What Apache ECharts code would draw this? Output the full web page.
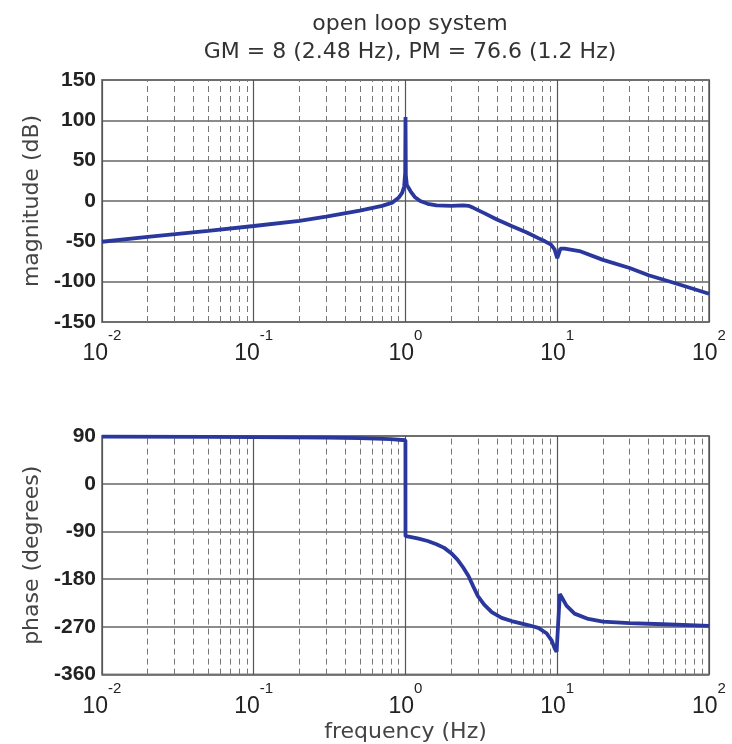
<!DOCTYPE html>
<html>
<head>
<meta charset="utf-8">
<script src="https://cdn.jsdelivr.net/npm/echarts@6/dist/echarts.min.js"></script>
<style>html,body{margin:0;padding:0;background:#fff}#c{width:732px;height:744px}</style>
</head>
<body>
<div id="c"></div>
<script>
// ---- data ----
var titleLines = ['open loop system', 'GM = 8 (2.48 Hz), PM = 76.6 (1.2 Hz)'];
var magTicks = [-150, -100, -50, 0, 50, 100, 150];
var phaseTicks = [-360, -270, -180, -90, 0, 90];
var decades = [0.01, 0.1, 1, 10];
var minorMultipliers = [2, 3, 4, 5, 6, 7, 8, 9];

var freqMag = [0.01, 0.02, 0.05, 0.1, 0.2, 0.3, 0.5, 0.7, 0.82, 0.9, 0.95, 0.98, 0.995, 1.0, 1.005, 1.02, 1.08, 1.15, 1.25, 1.4, 1.6, 2.0, 2.4, 2.6, 2.8, 3.3, 4.0, 5.0, 6.3, 7.5, 8.3, 9.1, 9.6, 10.0, 10.5, 11.2, 14, 20, 30, 40, 60, 100];
var magDb   = [-50.5, -44.5, -37, -31, -24.5, -19.5, -12, -6, -2, 4, 10, 18, 35, 104, 32, 20, 12, 5, 0, -3.5, -5.5, -6, -5.5, -6, -8.5, -15, -23, -31, -39, -46, -50, -54, -60, -71, -59, -59, -62, -73, -83, -92, -102, -115];

var freqPh = [0.01, 0.05, 0.1, 0.3, 0.5, 0.8, 0.999, 1.0, 1.05, 1.2, 1.4, 1.6, 1.8, 2.0, 2.2, 2.4, 2.6, 2.8, 3.0, 3.3, 3.7, 4.3, 5.0, 5.5, 6.5, 7.5, 8.5, 9.2, 9.6, 9.9, 10.4, 10.8, 11.5, 13, 16, 20, 30, 50, 100];
var phaseDeg = [89, 88.5, 88, 87, 86, 84, 82, -99, -100, -103, -108, -114, -121, -131, -143, -158, -174, -194, -212, -228, -242, -253, -259, -262, -267, -272, -282, -296, -310, -317, -208, -216, -230, -245, -255, -260, -263, -265, -268];

// ---- build ----
var FONT = 'Liberation Sans, Arial, sans-serif';
var WIDE = 'DejaVu Sans, sans-serif';
function pairs(xs, ys) { return xs.map(function (x, i) { return [x, ys[i]]; }); }
var minorLines = [];
decades.forEach(function (d) { minorMultipliers.forEach(function (m) { minorLines.push({ xAxis: m * d }); }); });

function xAxisFor(idx, withName) {
  return {
    type: 'log', logBase: 10, gridIndex: idx, min: 0.01, max: 100,
    axisLine: { show: false }, axisTick: { show: false },
    splitLine: { show: true, lineStyle: { color: '#555', width: 1.2 } },
    axisLabel: {
      margin: 10,
      formatter: function (v) { return '{b|10}{s|' + Math.round(Math.log10(v)) + '}'; },
      rich: {
        b: { fontSize: 23, color: '#222', fontFamily: FONT, lineHeight: 32, padding: [12, 0, 0, 0] },
        s: { fontSize: 15, color: '#222', fontFamily: FONT, lineHeight: 16, padding: [0, 0, 24, 0] }
      }
    },
    name: withName ? 'frequency (Hz)' : '',
    nameLocation: 'middle', nameGap: 44,
    nameTextStyle: { fontSize: 22, color: '#444', fontFamily: WIDE }
  };
}
function yAxisFor(idx, ticks, name) {
  return {
    type: 'value', gridIndex: idx, min: ticks[0], max: ticks[ticks.length - 1],
    interval: ticks[1] - ticks[0],
    axisLine: { show: false }, axisTick: { show: false },
    splitLine: { show: true, lineStyle: { color: '#666', width: 1.5 } },
    axisLabel: { fontSize: 21, fontWeight: 'bold', color: '#222', fontFamily: FONT, margin: 6 },
    name: name, nameLocation: 'middle', nameGap: 59,
    nameTextStyle: { fontSize: 22, color: '#444', fontFamily: WIDE }
  };
}
var lineColor = '#2a389e';
function seriesFor(idx, data) {
  return {
    type: 'line', xAxisIndex: idx, yAxisIndex: idx, data: data,
    showSymbol: false, symbol: 'none', animation: false,
    lineStyle: { color: lineColor, width: 3.8 },
    markLine: {
      silent: true, symbol: 'none', animation: false,
      label: { show: false },
      lineStyle: { color: '#777', width: 1, type: [6, 4] },
      data: minorLines
    },
    z: 5
  };
}

var chart = echarts.init(document.getElementById('c'));
chart.setOption({
  animation: false,
  backgroundColor: '#fff',
  title: {
    text: titleLines.join('\n'),
    left: 405, top: 5, textAlign: 'center',
    textStyle: { fontSize: 22, fontWeight: 'normal', color: '#333', fontFamily: WIDE, lineHeight: 28 }
  },
  grid: [
    { left: 102, top: 80, width: 607, height: 242, show: true, borderColor: '#888', borderWidth: 2, backgroundColor: '#fff' },
    { left: 102, top: 436, width: 607, height: 239, show: true, borderColor: '#888', borderWidth: 2, backgroundColor: '#fff' }
  ],
  xAxis: [xAxisFor(0, false), xAxisFor(1, true)],
  yAxis: [yAxisFor(0, magTicks, 'magnitude (dB)'), yAxisFor(1, phaseTicks, 'phase (degrees)')],
  series: [seriesFor(0, pairs(freqMag, magDb)), seriesFor(1, pairs(freqPh, phaseDeg))]
});
</script>
</body>
</html>
